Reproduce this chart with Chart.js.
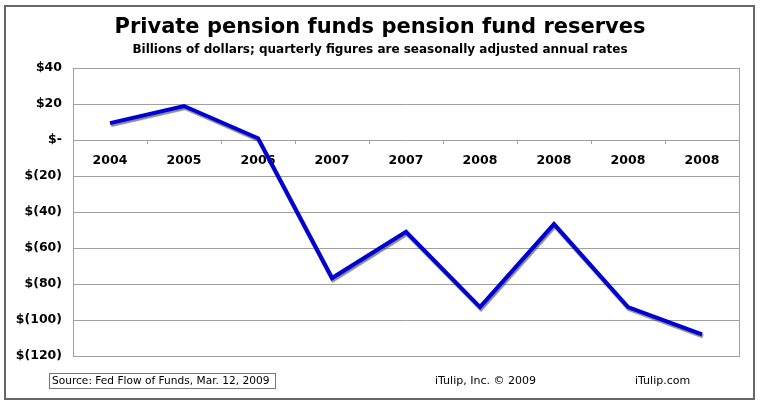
<!DOCTYPE html>
<html>
<head>
<meta charset="utf-8">
<script src="https://cdn.jsdelivr.net/npm/chart.js@4"></script>
<style>
    body { margin: 0; background: #fff; }
    #grafico_box { position: relative; width: 760px; height: 405px; }
</style>
</head>
<body>
<div id="grafico_box">
    <canvas id="grafico_reservas" width="760" height="405"></canvas>
</div>
<script>
// dados
var anos = ['2004', '2005', '2006', '2007', '2007', '2008', '2008', '2008', '2008'];
var reservas = [9.4, 18.9, 1, -76.7, -51, -92.8, -46.7, -92.8, -108];
var ticks_y = [40, 20, 0, -20, -40, -60, -80, -100, -120];

var fonte = 'DejaVu Sans';

function formatar_dolar(v) {
    if (v == 0) return '$-';
    if (v < 0) return '$(' + Math.abs(v) + ')';
    return '$' + v;
}

// textos, moldura e sombra da linha
var plugin_extras = {
    id: 'extras',
    beforeDatasetsDraw(chart) {
        var ctx = chart.ctx;
        ctx.save();
        ctx.shadowColor = 'rgba(60, 60, 60, 0.6)';
        ctx.shadowOffsetX = 1;
        ctx.shadowOffsetY = 2;
        ctx.shadowBlur = 1;
    },
    afterDatasetsDraw(chart) {
        chart.ctx.restore();
    },
    afterDraw(chart) {
        var ctx = chart.ctx;
        var a = chart.chartArea;
        ctx.save();

        // borda do plot
        ctx.strokeStyle = '#a0a0a0';
        ctx.lineWidth = 1;
        ctx.strokeRect(a.left + 0.5, a.top + 0.5, a.right - a.left, a.bottom - a.top);

        // moldura externa
        ctx.strokeStyle = '#666';
        ctx.lineWidth = 2;
        ctx.strokeRect(5, 6, 749, 393);

        ctx.fillStyle = '#000';
        ctx.textAlign = 'center';
        ctx.textBaseline = 'middle';
        ctx.font = 'bold 21px ' + fonte;
        ctx.fillText('Private pension funds pension fund reserves', 380, 28);
        ctx.font = 'bold 12px ' + fonte;
        ctx.fillText('Billions of dollars; quarterly figures are seasonally adjusted annual rates', 380, 50);

        // rodape
        ctx.font = '10.6px ' + fonte;
        ctx.textAlign = 'left';
        ctx.fillText('Source: Fed Flow of Funds, Mar. 12, 2009', 52, 381);
        ctx.strokeStyle = '#777';
        ctx.lineWidth = 1;
        ctx.strokeRect(49.5, 373.5, 226, 15);
        ctx.font = '11px ' + fonte;
        ctx.fillText('iTulip, Inc. \u00a9 2009', 435, 381);
        ctx.fillText('iTulip.com', 635, 381);
        ctx.restore();
    }
};

var data = {
    labels: anos,
    datasets: [{
        label: 'Pension fund reserves',
        data: reservas,
        borderColor: 'rgb(0, 0, 210)',
        borderWidth: 4,
        pointRadius: 0,
        tension: 0,
        fill: false
    }]
};

var ctx = document.getElementById('grafico_reservas');

new Chart(ctx, {
    type: 'line',
    data: data,
    plugins: [plugin_extras],
    options: {
        responsive: false,
        animation: false,
        layout: {
            padding: { top: 68, right: 21, bottom: 49, left: 0 }
        },
        plugins: {
            legend: { display: false },
            title: { display: false },
            tooltip: { enabled: false }
        },
        scales: {
            x: {
                position: { y: 0 },
                offset: true,
                grid: {
                    display: true,
                    offset: true,
                    drawOnChartArea: false,
                    drawTicks: true,
                    tickLength: 4,
                    color: '#a0a0a0'
                },
                border: { display: false },
                ticks: {
                    padding: 9,
                    color: '#000',
                    maxRotation: 0,
                    autoSkip: false,
                    font: { family: fonte, size: 12.5, weight: 'bold' }
                }
            },
            y: {
                min: -120,
                max: 40,
                afterBuildTicks: function (scale) {
                    scale.ticks = ticks_y.map(function (v) { return { value: v }; });
                },
                afterFit: function (scale) {
                    scale.width = 73;
                },
                grid: {
                    color: '#a0a0a0',
                    drawTicks: false
                },
                border: { color: '#a0a0a0' },
                ticks: {
                    padding: 11,
                    color: '#000',
                    font: { family: fonte, size: 12.5, weight: 'bold' },
                    callback: function (v) { return formatar_dolar(v); }
                }
            }
        }
    }
});
</script>
</body>
</html>
